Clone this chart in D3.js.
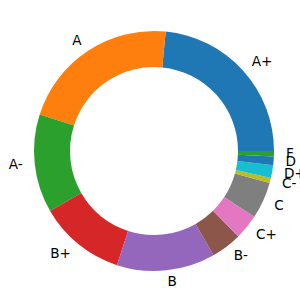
<!DOCTYPE html>
<html>
<head>
<meta charset="utf-8">
<script src="https://cdn.jsdelivr.net/npm/d3@7"></script>
<style>
  body { margin: 0; background: #fff; }
  text { font-family: "DejaVu Sans", sans-serif; font-size: 13.6px; fill: #000; }
</style>
</head>
<body>
<script>
var side = 300;

// grade shares (percent), counter-clockwise from 3 o'clock
var grades = ["A+", "A", "A-", "B+", "B", "B-", "C+", "C", "C-", "D+", "D", "F"];
var shares = [23.44, 21.64, 13.25, 11.67, 13.25, 4.14, 3.36, 4.94, 0.69, 1.72, 1.17, 0.72];
var colors = ["#1f77b4", "#ff7f0e", "#2ca02c", "#d62728", "#9467bd", "#8c564b",
              "#e377c2", "#7f7f7f", "#bcbd22", "#17becf", "#1f77b4", "#2ca02c"];

var cx = 154, cy = 151, outerR = 120, innerR = outerR * 0.7, labelR = outerR * 1.1;

var data = grades.map(function(g, i) { return {grade: g, value: shares[i], color: colors[i]}; });

var svg = d3.select("body").append("svg")
            .attr("width", side)
            .attr("height", side);

var g = svg.append("g").attr("transform", "translate(" + cx + "," + cy + ")");

// matplotlib style: start at 3 o'clock, go counter-clockwise
var pie = d3.pie()
            .sort(null)
            .value(function(d) { return d.value; })
            .startAngle(Math.PI / 2)
            .endAngle(Math.PI / 2 - 2 * Math.PI);

var arc = d3.arc().innerRadius(innerR).outerRadius(outerR);

var arcs = pie(data);

g.selectAll("path")
 .data(arcs)
 .enter()
 .append("path")
 .attr("d", arc)
 .style("fill", function(d) { return d.data.color; });

function mid(d) { return (d.startAngle + d.endAngle) / 2; }

g.selectAll("text")
 .data(arcs)
 .enter()
 .append("text")
 .attr("x", function(d) { return labelR * Math.sin(mid(d)); })
 .attr("y", function(d) { return -labelR * Math.cos(mid(d)); })
 .attr("dy", "0.3em")
 .attr("text-anchor", function(d) { return Math.sin(mid(d)) >= 0 ? "start" : "end"; })
 .text(function(d) { return d.data.grade; });
</script>
</body>
</html>
